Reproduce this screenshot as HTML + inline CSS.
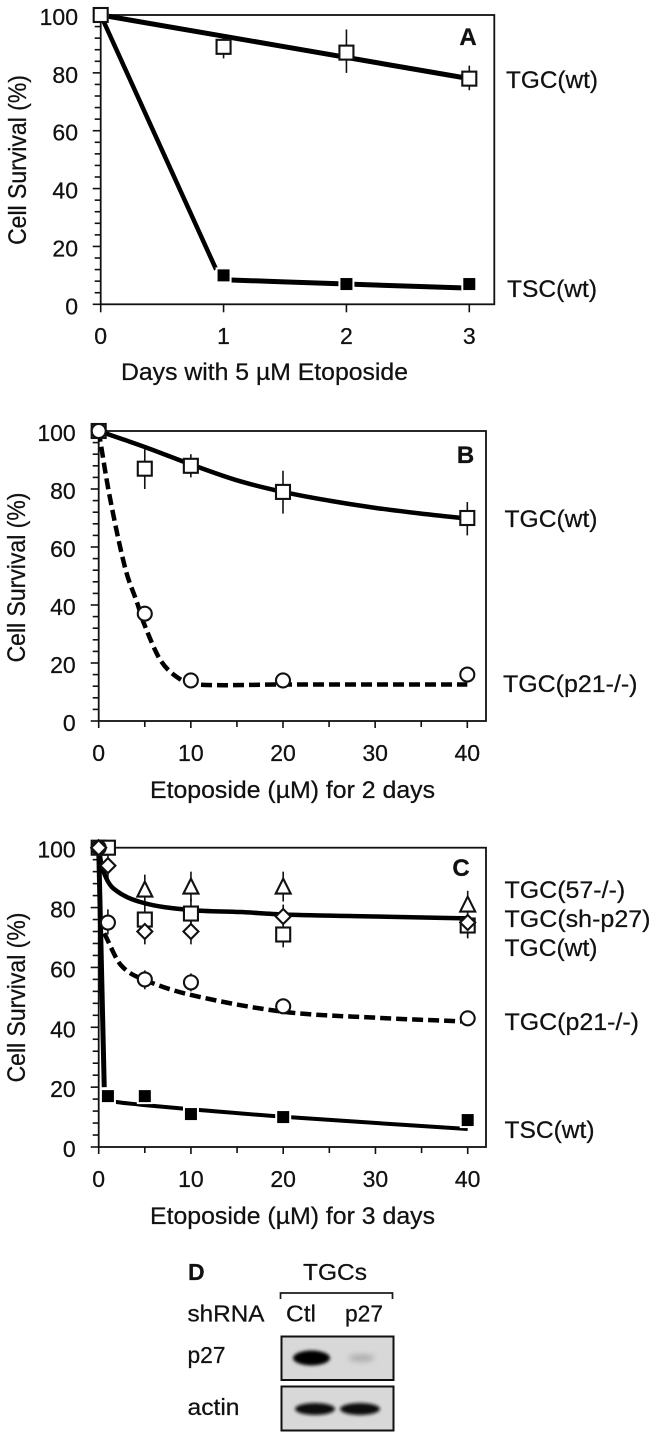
<!DOCTYPE html>
<html lang="en">
<head>
<meta charset="utf-8">
<title>Cell survival after etoposide treatment</title>
<style>
html,body{margin:0;padding:0;background:#fff;width:654px;height:1437px;overflow:hidden}
svg{display:block}
text{font-family:"Liberation Sans",Arial,sans-serif;fill:#111;stroke:#111;stroke-width:.25}
</style>
</head>
<body>
<svg id="figure" width="654" height="1437" viewBox="0 0 654 1437" xmlns="http://www.w3.org/2000/svg">
<defs>
<filter id="blur-strong" x="-40%" y="-80%" width="180%" height="260%"><feGaussianBlur stdDeviation="1.6"/></filter>
<filter id="blur-soft" x="-40%" y="-80%" width="180%" height="260%"><feGaussianBlur stdDeviation="3"/></filter>
</defs>

<g id="panel-a">
<text transform="translate(26 160) rotate(-90) scale(1 1.08)" text-anchor="middle" font-size="23">Cell Survival (%)</text>
<text x="121" y="380" font-size="24" textLength="287" lengthAdjust="spacingAndGlyphs">Days with 5 µM Etoposide</text>
<text x="468" y="45" text-anchor="middle" font-size="24" font-weight="bold">A</text>
<text x="506" y="88" font-size="24" textLength="92" lengthAdjust="spacingAndGlyphs">TGC(wt)</text>
<text x="507" y="297" font-size="24" textLength="90" lengthAdjust="spacingAndGlyphs">TSC(wt)</text>
</g>

<g id="panel-b">
<text transform="translate(25 577.5) rotate(-90) scale(1 1.08)" text-anchor="middle" font-size="23">Cell Survival (%)</text>
<text x="150" y="798" font-size="24" textLength="285" lengthAdjust="spacingAndGlyphs">Etoposide (µM) for 2 days</text>
<text x="465.5" y="463" text-anchor="middle" font-size="24" font-weight="bold">B</text>
<text x="504.5" y="527" font-size="24" textLength="93" lengthAdjust="spacingAndGlyphs">TGC(wt)</text>
<text x="503" y="692" font-size="24" textLength="134.5" lengthAdjust="spacingAndGlyphs">TGC(p21-/-)</text>
</g>

<g id="panel-c">
<text transform="translate(25 997.5) rotate(-90) scale(1 1.08)" text-anchor="middle" font-size="23">Cell Survival (%)</text>
<text x="150" y="1224" font-size="24" textLength="285" lengthAdjust="spacingAndGlyphs">Etoposide (µM) for 3 days</text>
<text x="461" y="876" text-anchor="middle" font-size="24" font-weight="bold">C</text>
<text x="504.5" y="898" font-size="24" textLength="120.7" lengthAdjust="spacingAndGlyphs">TGC(57-/-)</text>
<text x="504.5" y="927" font-size="24" textLength="146" lengthAdjust="spacingAndGlyphs">TGC(sh-p27)</text>
<text x="504.5" y="956" font-size="24" textLength="93" lengthAdjust="spacingAndGlyphs">TGC(wt)</text>
<text x="504.5" y="1030" font-size="24" textLength="134.5" lengthAdjust="spacingAndGlyphs">TGC(p21-/-)</text>
<text x="504.5" y="1138" font-size="24" textLength="90" lengthAdjust="spacingAndGlyphs">TSC(wt)</text>
</g>

<g id="panel-d">
<text x="188" y="1280" font-size="23" font-weight="bold">D</text>
<text x="303" y="1280" font-size="23" textLength="64" lengthAdjust="spacingAndGlyphs">TGCs</text>
<path d="M280.5 1299V1293H392.5V1299" fill="none" stroke="#1a1a1a" stroke-width="1.7"/>
<text x="187.5" y="1321.5" font-size="23" textLength="77" lengthAdjust="spacingAndGlyphs">shRNA</text>
<text x="286" y="1321.5" font-size="23" textLength="30" lengthAdjust="spacingAndGlyphs">Ctl</text>
<text x="345" y="1321.5" font-size="23" textLength="38" lengthAdjust="spacingAndGlyphs">p27</text>
<text x="187.5" y="1363" font-size="23" textLength="38" lengthAdjust="spacingAndGlyphs">p27</text>
<text x="187.5" y="1415" font-size="23" textLength="52" lengthAdjust="spacingAndGlyphs">actin</text>
<rect x="281.5" y="1336.5" width="112" height="43.5" fill="#d8d8d8" stroke="#111" stroke-width="2"/>
<ellipse cx="311.5" cy="1358" rx="18.5" ry="7.5" fill="#000" filter="url(#blur-strong)"/>
<ellipse cx="361.5" cy="1358" rx="13" ry="3.5" fill="#aaa" filter="url(#blur-soft)"/>
<rect x="281.5" y="1386.5" width="112" height="44" fill="#d8d8d8" stroke="#111" stroke-width="2"/>
<ellipse cx="315" cy="1409" rx="20" ry="6" fill="#111" filter="url(#blur-strong)"/>
<ellipse cx="360" cy="1409" rx="20" ry="6" fill="#111" filter="url(#blur-strong)"/>
</g>
</svg>

<script>
/* ---------- Panel A data ---------- */
var aDays = [0, 1, 2, 3];
var aXTicks = ['0', '1', '2', '3'];
var aTgcMeans = [100, 89, 87, 78];
var aTgcErrLow = [100, 85, 80, 74];
var aTgcErrHigh = [100, 93, 95, 82.5];
var aTscMeans = [100, 10, 7, 7];
var aTgcFitX = [0, 3];
var aTgcFitY = [100, 78];
var aTscDropX = [0, 0.94];
var aTscDropY = [100, 12];
var aTscTailX = [1, 2, 3];
var aTscTailY = [8.5, 7, 5.6];

/* ---------- Panel B data ---------- */
var bDoses = [0, 5, 10, 20, 40];
var bXTickValues = [0, 10, 20, 30, 40];
var bTgcMeans = [100, 87, 88, 79, 70];
var bTgcErrLow = [100, 80, 84, 71.5, 64];
var bTgcErrHigh = [100, 93.7, 92, 86.3, 75.5];
var bP21Means = [100, 37, 14, 14, 16];
var bTgcFitX = [0, 5, 10, 15, 20, 25, 30, 35, 40];
var bTgcFitY = [100, 94.5, 88.5, 83, 79, 76, 73.5, 71.5, 69.8];
var bP21FitX = [0, 1.13, 2.85, 4.2, 4.9, 6.7, 8.7, 10.5, 20, 40];
var bP21FitY = [100, 78.5, 53, 40.5, 33.7, 21, 14.7, 12.6, 12.6, 12.6];

/* ---------- Panel C data ---------- */
var cDoses = [0, 1, 5, 10, 20, 40];
var cXTickValues = [0, 10, 20, 30, 40];
var cWtMeans = [100, 100, 76, 78, 71, 74];
var cWtErrLow = [100, 100, 70, 73, 66.7, 70];
var cWtErrHigh = [100, 100, 82, 83, 76, 78];
var cShMeans = [100, 94, 72, 72, 77, 75];
var cShErrLow = [100, 88.6, 67.7, 67.7, 73, 69.7];
var cShErrHigh = [100, 99, 76, 76, 81, 79];
var cP21Means = [100, 75, 56, 55, 47, 43];
var cP21ErrLow = [100, 71, 52.7, 52, 45, 41];
var cP21ErrHigh = [100, 79.4, 59, 58, 49, 45];
var c57Doses = [5, 10, 20, 40];
var c57Means = [86, 87, 87, 81];
var c57ErrLow = [81, 82, 82, 77];
var c57ErrHigh = [91, 92, 92, 85.6];
var cTscMeans = [100, 17, 17, 11, 10, 9];
var cBlackFitX = [0, 0.4, 1.55, 4.8, 9.9, 15.4, 20, 30, 40];
var cBlackFitY = [100, 93, 86.5, 81.6, 79.2, 78.5, 77.7, 77, 76.4];
var cP21FitX = [0.6, 2.4, 5, 10, 20, 30, 40];
var cP21FitY = [71.4, 60.8, 55.8, 50.8, 45.2, 43.2, 41.9];
var cTscDropX = [0, 0.6];
var cTscDropY = [100, 20];
var cTscTailX = [1.2, 2, 5, 10, 20, 40];
var cTscTailY = [15.6, 15, 14, 12.6, 10.1, 6];

/* ---------- Shared axis data ---------- */
var yTickValues = [0, 20, 40, 60, 80, 100];

var svg = document.getElementById('figure');
var NS = 'http://www.w3.org/2000/svg';
var INK = '#111';

function makeScale(d0, d1, p0, p1) {
  return function (v) { return p0 + (v - d0) * (p1 - p0) / (d1 - d0); };
}

function node(parent, tag, attrs) {
  var el = document.createElementNS(NS, tag);
  for (var k in attrs) el.setAttribute(k, attrs[k]);
  parent.appendChild(el);
  return el;
}

function drawFrame(g, left, right, top, bottom) {
  var el = node(g, 'rect', {x: left, y: top, width: right - left, height: bottom - top, fill: 'none', stroke: INK, 'stroke-width': 1.8});
  
  
}

function drawYAxis(g, sy, left, labelRight) {
  for (var v = 0; v <= 100; v += 4) {
    var major = v % 20 === 0;
    var tick = node(g, 'line', {x1: left - (major ? 8 : 6), x2: left, y1: sy(v), y2: sy(v), stroke: INK, 'stroke-width': 1.6});
    
    
  }
  yTickValues.forEach(function (v) {
    var t = node(g, 'text', {x: labelRight, y: sy(v) + 10, 'text-anchor': 'end', 'font-size': 23});
    t.textContent = String(v);
    
    
  });
}

function drawXTick(g, x, bottom, len) {
  var tick = node(g, 'line', {x1: x, x2: x, y1: bottom, y2: bottom + len, stroke: INK, 'stroke-width': 1.6});
  
  
}

function drawXLabel(g, x, y, str) {
  var t = node(g, 'text', {x: x, y: y, 'text-anchor': 'middle', 'font-size': 23});
  t.textContent = str;
  
  
}

/* Smooth x-monotone cubic through the data points, placed by the axis scales. */
function drawLine(g, xs, ys, sx, sy, width, dash, name) {
  var px = xs.map(sx), py = ys.map(sy), n = px.length, slopes = [];
  for (var i = 0; i < n; i++) {
    var a = Math.max(i - 1, 0), b = Math.min(i + 1, n - 1);
    slopes.push((py[b] - py[a]) / (px[b] - px[a]));
  }
  var d = 'M' + px[0].toFixed(2) + ' ' + py[0].toFixed(2);
  for (var j = 0; j < n - 1; j++) {
    var h = (px[j + 1] - px[j]) / 3;
    d += 'C' + (px[j] + h).toFixed(2) + ' ' + (py[j] + h * slopes[j]).toFixed(2) + ' ' +
      (px[j + 1] - h).toFixed(2) + ' ' + (py[j + 1] - h * slopes[j + 1]).toFixed(2) + ' ' +
      px[j + 1].toFixed(2) + ' ' + py[j + 1].toFixed(2);
  }
  var attrs = {d: d, fill: 'none', stroke: '#000', 'stroke-width': width};
  if (dash) attrs['stroke-dasharray'] = dash;
  var el = node(g, 'path', attrs);
  
  
}

function drawErrors(g, xs, low, high, sx, sy, name) {
  xs.forEach(function (x, i) {
    var bar = node(g, 'line', {x1: sx(x), x2: sx(x), y1: sy(low[i]), y2: sy(high[i]), stroke: INK, 'stroke-width': 1.6});
    
    
  });
}

function drawMarkers(g, shape, xs, ys, sx, sy, name) {
  xs.forEach(function (x, i) {
    var cx = sx(x), cy = sy(ys[i]), el;
    var open = {fill: '#fff', stroke: INK, 'stroke-width': 2.1};
    if (shape === 'square') {
      el = node(g, 'rect', Object.assign({x: cx - 7, y: cy - 7, width: 14, height: 14}, open));
    } else if (shape === 'filled') {
      el = node(g, 'rect', {x: cx - 7, y: cy - 7, width: 14, height: 14, fill: '#000', stroke: '#fff', 'stroke-width': 2});
    } else if (shape === 'circle') {
      el = node(g, 'circle', Object.assign({cx: cx, cy: cy, r: 7}, open));
    } else if (shape === 'diamond') {
      el = node(g, 'polygon', Object.assign({points: [cx, cy - 7.5, cx + 7.5, cy, cx, cy + 7.5, cx - 7.5, cy].join(' ')}, open));
    } else {
      el = node(g, 'polygon', Object.assign({points: [cx, cy - 8, cx + 7.5, cy + 7, cx - 7.5, cy + 7].join(' ')}, open));
    }
    
    
  });
}

/* ---------- Panel A ---------- */
(function () {
  var g = document.getElementById('panel-a');
  var sx = makeScale(0, 3, 100.7, 469.3);
  var sy = makeScale(0, 100, 304.3, 15);
  drawFrame(g, 100.7, 494.3, 15, 304.3);
  drawYAxis(g, sy, 100.7, 78);
  aDays.forEach(function (d, i) {
    drawXTick(g, sx(d), 304.3, 8);
    drawXLabel(g, sx(d), 344, aXTicks[i]);
  });
  drawErrors(g, aDays, aTgcErrLow, aTgcErrHigh, sx, sy, 'tgc-wt-error-bar');
  drawLine(g, aTgcFitX, aTgcFitY, sx, sy, 5, null, 'tgc-wt-line');
  drawLine(g, aTscDropX, aTscDropY, sx, sy, 4.5, null, 'tsc-wt-drop-line');
  drawLine(g, aTscTailX, aTscTailY, sx, sy, 5, null, 'tsc-wt-tail-line');
  drawMarkers(g, 'filled', aDays, aTscMeans, sx, sy, 'tsc-wt-point');
  drawMarkers(g, 'square', aDays, aTgcMeans, sx, sy, 'tgc-wt-point');
})();

/* ---------- Panel B ---------- */
(function () {
  var g = document.getElementById('panel-b');
  var sx = makeScale(0, 40, 98.7, 467.3);
  var sy = makeScale(0, 100, 721, 431);
  drawFrame(g, 98.7, 486, 431, 721);
  drawYAxis(g, sy, 98.7, 75.7);
  for (var d = 0; d <= 40; d += 5) drawXTick(g, sx(d), 721, d % 10 === 0 ? 7 : 6);
  bXTickValues.forEach(function (d) { drawXLabel(g, sx(d), 761, String(d)); });
  drawErrors(g, bDoses, bTgcErrLow, bTgcErrHigh, sx, sy, 'tgc-wt-error-bar');
  drawLine(g, bTgcFitX, bTgcFitY, sx, sy, 4.5, null, 'tgc-wt-curve');
  drawLine(g, bP21FitX, bP21FitY, sx, sy, 4.5, '11 5', 'tgc-p21-curve');
  drawMarkers(g, 'square', bDoses, bTgcMeans, sx, sy, 'tgc-wt-point');
  drawMarkers(g, 'circle', bDoses, bP21Means, sx, sy, 'tgc-p21-point');
})();

/* ---------- Panel C ---------- */
(function () {
  var g = document.getElementById('panel-c');
  var sx = makeScale(0, 40, 98.7, 467.7);
  var sy = makeScale(0, 100, 1147, 847.7);
  drawFrame(g, 98.7, 486, 847.7, 1147);
  drawYAxis(g, sy, 98.7, 75.7);
  for (var d = 0; d <= 40; d += 5) drawXTick(g, sx(d), 1147, d % 10 === 0 ? 7 : 6);
  cXTickValues.forEach(function (d) { drawXLabel(g, sx(d), 1187, String(d)); });
  drawErrors(g, c57Doses, c57ErrLow, c57ErrHigh, sx, sy, 'tgc-57-error-bar');
  drawErrors(g, cDoses, cWtErrLow, cWtErrHigh, sx, sy, 'tgc-wt-error-bar');
  drawErrors(g, cDoses, cShErrLow, cShErrHigh, sx, sy, 'tgc-sh-p27-error-bar');
  drawErrors(g, cDoses, cP21ErrLow, cP21ErrHigh, sx, sy, 'tgc-p21-error-bar');
  drawLine(g, cBlackFitX, cBlackFitY, sx, sy, 4.5, null, 'tgc-group-curve');
  drawLine(g, cP21FitX, cP21FitY, sx, sy, 4.5, '11 5', 'tgc-p21-curve');
  drawLine(g, cTscDropX, cTscDropY, sx, sy, 5, null, 'tsc-wt-drop-line');
  drawLine(g, cTscTailX, cTscTailY, sx, sy, 4, null, 'tsc-wt-tail-line');
  drawMarkers(g, 'triangle', c57Doses, c57Means, sx, sy, 'tgc-57-point');
  drawMarkers(g, 'square', cDoses, cWtMeans, sx, sy, 'tgc-wt-point');
  drawMarkers(g, 'circle', cDoses, cP21Means, sx, sy, 'tgc-p21-point');
  drawMarkers(g, 'filled', cDoses.slice(1), cTscMeans.slice(1), sx, sy, 'tsc-wt-point');
  drawMarkers(g, 'diamond', cDoses, cShMeans, sx, sy, 'tgc-sh-p27-point');
})();
</script>
</body>
</html>
